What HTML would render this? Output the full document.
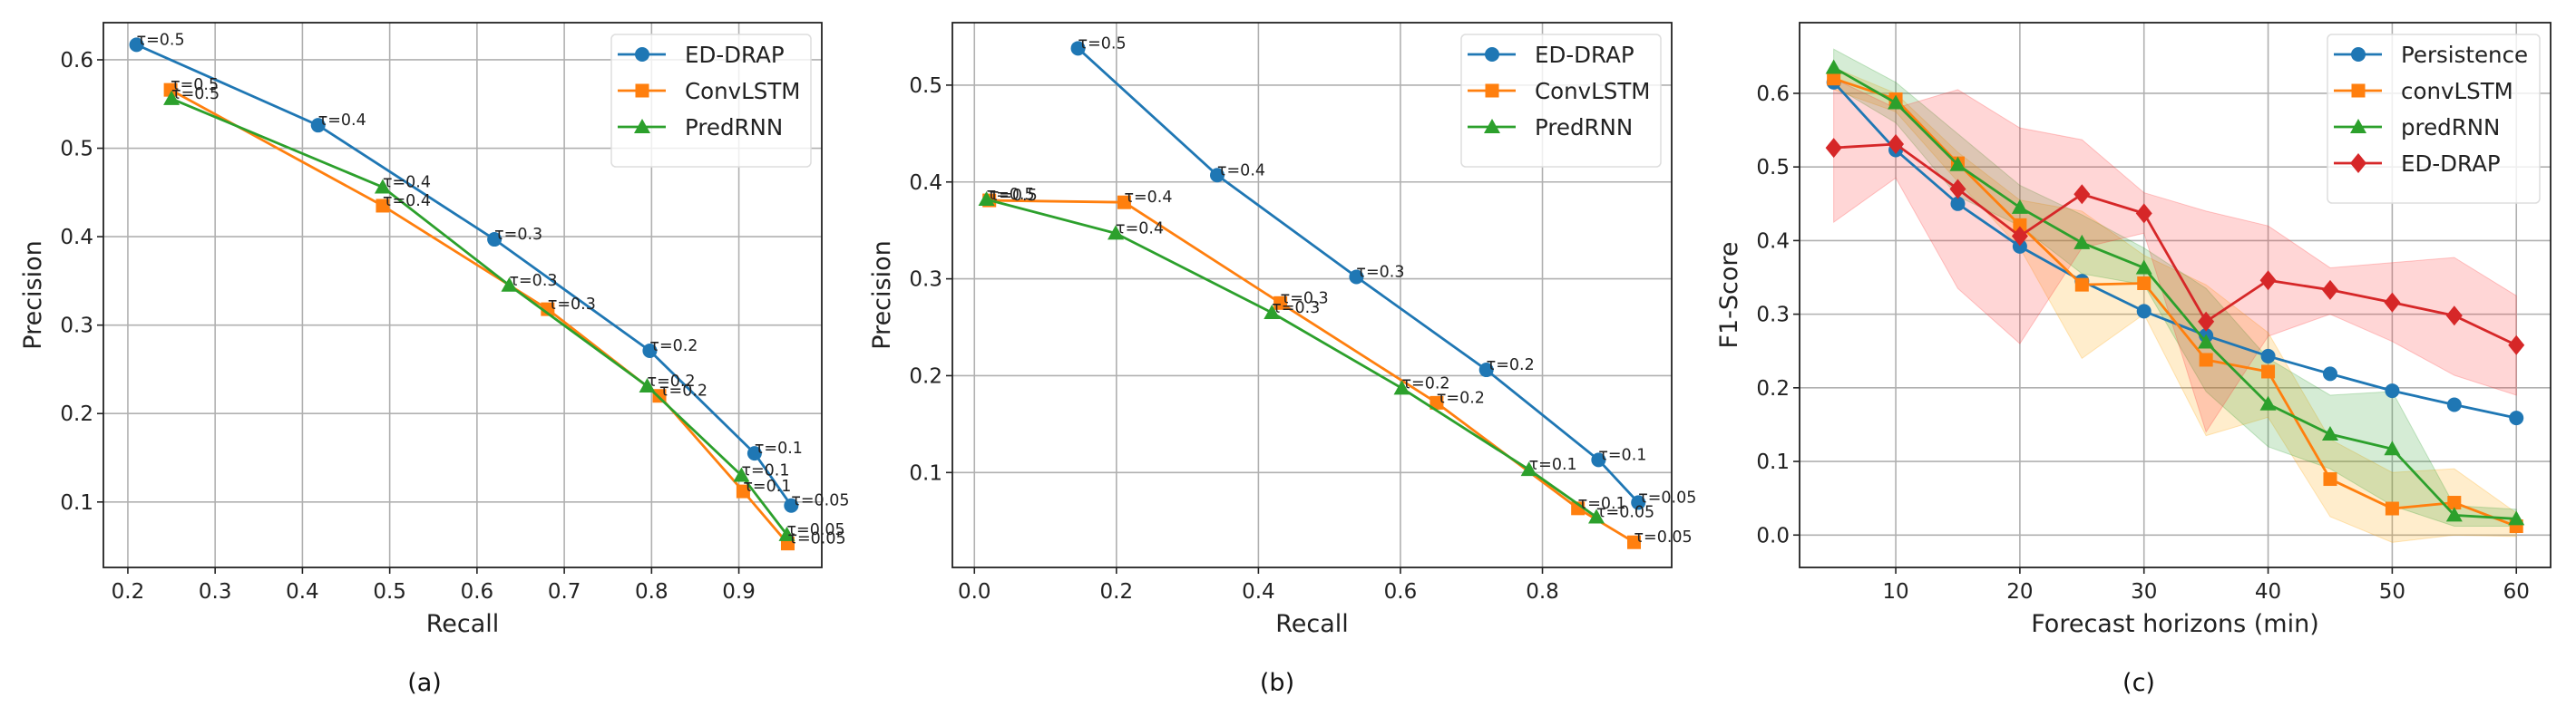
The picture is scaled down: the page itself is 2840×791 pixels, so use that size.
<!DOCTYPE html>
<html><head><meta charset="utf-8">
<style>
html,body{margin:0;padding:0;background:#fff;}
svg{display:block;font-family:"DejaVu Sans","Liberation Sans",sans-serif;}
</style></head>
<body>
<svg id="fig" width="2840" height="791" viewBox="0 0 2840 791" xmlns="http://www.w3.org/2000/svg"></svg>
<script>
// ---- Panel (a) data ----
const aEdX=[0.210,0.418,0.620,0.798,0.918,0.960];
const aEdY=[0.617,0.526,0.397,0.271,0.155,0.096];
const aConvX=[0.249,0.492,0.681,0.809,0.905,0.956];
const aConvY=[0.566,0.435,0.318,0.220,0.112,0.053];
const aPredX=[0.250,0.492,0.637,0.795,0.903,0.955];
const aPredY=[0.556,0.456,0.345,0.231,0.130,0.063];
const tauLabels=["τ=0.5","τ=0.4","τ=0.3","τ=0.2","τ=0.1","τ=0.05"];
const aXTicks=[0.2,0.3,0.4,0.5,0.6,0.7,0.8,0.9];
const aYTicks=[0.1,0.2,0.3,0.4,0.5,0.6];
// ---- Panel (b) data ----
const bEdX=[0.146,0.342,0.538,0.721,0.879,0.935];
const bEdY=[0.538,0.407,0.302,0.206,0.113,0.069];
const bConvX=[0.021,0.211,0.431,0.651,0.850,0.929];
const bConvY=[0.381,0.379,0.275,0.172,0.063,0.028];
const bPredX=[0.017,0.199,0.419,0.602,0.781,0.876];
const bPredY=[0.382,0.347,0.265,0.187,0.103,0.054];
const bXTicks=[0.0,0.2,0.4,0.6,0.8];
const bYTicks=[0.1,0.2,0.3,0.4,0.5];
// ---- Panel (c) data ----
const horizons=[5,10,15,20,25,30,35,40,45,50,55,60];
const persist=[0.615,0.523,0.450,0.392,0.345,0.304,0.271,0.243,0.219,0.196,0.177,0.159];
const convF1=[0.620,0.592,0.505,0.421,0.340,0.342,0.238,0.222,0.076,0.036,0.044,0.012];
const predF1=[0.635,0.587,0.503,0.445,0.397,0.363,0.262,0.178,0.137,0.117,0.027,0.022];
const edF1=[0.526,0.531,0.470,0.406,0.463,0.437,0.290,0.346,0.333,0.316,0.298,0.258];
const edUp=[0.620,0.580,0.605,0.553,0.537,0.465,0.440,0.420,0.363,0.370,0.377,0.325];
const edLo=[0.425,0.485,0.335,0.260,0.390,0.410,0.140,0.270,0.300,0.263,0.217,0.190];
const predUp=[0.660,0.615,0.545,0.475,0.435,0.390,0.335,0.240,0.190,0.195,0.040,0.035];
const predLo=[0.610,0.560,0.460,0.420,0.355,0.340,0.195,0.120,0.090,0.040,0.012,0.012];
const convUp=[0.635,0.600,0.520,0.455,0.440,0.380,0.340,0.275,0.130,0.085,0.090,0.030];
const convLo=[0.605,0.575,0.480,0.390,0.240,0.300,0.135,0.160,0.025,-0.010,0.000,-0.002];
const cXTicks=[10,20,30,40,50,60];
const cYTicks=[0.0,0.1,0.2,0.3,0.4,0.5,0.6];

const NS="http://www.w3.org/2000/svg";
const fig=document.getElementById('fig');
function mk(tag,attrs,parent){const e=document.createElementNS(NS,tag);for(const k in attrs)e.setAttribute(k,attrs[k]);(parent||fig).appendChild(e);return e;}
const C={blue:"#1f77b4",orange:"#ff7f0e",green:"#2ca02c",red:"#d62728"};

function marker(g,type,x,y,color){
  let m;
  if(type==='o') m=mk('circle',{cx:x,cy:y,r:8,fill:color},g);
  else if(type==='s') m=mk('rect',{x:x-7.5,y:y-7.5,width:15,height:15,fill:color},g);
  else if(type==='^') m=mk('polygon',{points:`${x},${y-9} ${x-9},${y+7} ${x+9},${y+7}`,fill:color},g);
  else m=mk('polygon',{points:`${x},${y-11} ${x+9},${y} ${x},${y+11} ${x-9},${y}`,fill:color},g);
  
  
}

function panel(o){
  const g=mk('g',{});
  
  
  const L=o.L,R=o.R,T=25,B=626;
  const sx=v=>L+(v-o.x0)/(o.x1-o.x0)*(R-L);
  const sy=v=>B-(v-o.y0)/(o.y1-o.y0)*(B-T);
  const grid=mk('g',{},g);
  
  
  o.xt.forEach(t=>{
    mk('line',{x1:sx(t),x2:sx(t),y1:T,y2:B,stroke:"#b0b0b0","stroke-width":1.6},grid);
    mk('line',{x1:sx(t),x2:sx(t),y1:B,y2:B+7,stroke:"#222","stroke-width":1.6},g);
    const tx=mk('text',{x:sx(t),y:660,"font-size":23,"text-anchor":"middle",fill:"#222"},g);
    tx.textContent=o.xfmt(t);
    
    
  });
  o.yt.forEach(t=>{
    mk('line',{x1:L,x2:R,y1:sy(t),y2:sy(t),stroke:"#b0b0b0","stroke-width":1.6},grid);
    mk('line',{x1:L-7,x2:L,y1:sy(t),y2:sy(t),stroke:"#222","stroke-width":1.6},g);
    const tx=mk('text',{x:L-11,y:sy(t)+8,"font-size":23,"text-anchor":"end",fill:"#222"},g);
    tx.textContent=t.toFixed(1);
    
    
  });
  if(o.bands){o.bands.forEach(b=>{
    let pts=o.bx.map((x,i)=>sx(x)+','+sy(b.up[i]));
    pts=pts.concat(o.bx.map((x,i)=>sx(x)+','+sy(b.lo[i])).reverse());
    const p=mk('polygon',{points:pts.join(' '),fill:b.color,"fill-opacity":0.2,stroke:b.color,"stroke-opacity":0.25},g);
    
    
  });}
  o.series.forEach(s=>{
    const sg=mk('g',{},g);
    
    
    mk('polyline',{points:s.x.map((x,i)=>sx(x)+','+sy(s.y[i])).join(' '),fill:"none",stroke:s.color,"stroke-width":2.8},sg);
    s.x.forEach((x,i)=>marker(sg,s.m,sx(x),sy(s.y[i]),s.color));
  });
  if(o.annot){o.series.forEach(s=>{s.x.forEach((x,i)=>{
    const t=mk('text',{x:sx(x),y:sy(s.y[i]),"font-size":17.5,fill:"#222"},g);
    t.textContent=tauLabels[i];
    
    
  });});}
  mk('rect',{x:L,y:T,width:R-L,height:B-T,fill:"none",stroke:"#222","stroke-width":1.8},g);
  // legend
  const lg=mk('g',{},g);
  
  
  const lw=o.legW, lx=R-12-lw, n=o.series.length;
  mk('rect',{x:lx,y:38,width:lw,height:26+n*40,rx:5,fill:"#fff","fill-opacity":0.8,stroke:"#ddd","stroke-width":1.5},lg);
  o.series.forEach((s,i)=>{
    const y=60+i*40;
    const eg=mk('g',{},lg);
    
    
    mk('line',{x1:lx+7,x2:lx+60,y1:y,y2:y,stroke:s.color,"stroke-width":2.8},eg);
    marker(eg,s.m,lx+34,y,s.color);
    const t=mk('text',{x:lx+81,y:y+9,"font-size":24.5,fill:"#222"},eg);
    t.textContent=s.label;
  });
  const xl=mk('text',{x:(L+R)/2,y:697,"font-size":27,"text-anchor":"middle",fill:"#222"},g);
  xl.textContent=o.xlabel;
  
  
  const ylx=o.ylx, yly=(T+B)/2;
  const yl=mk('text',{x:ylx,y:yly,"font-size":27,"text-anchor":"middle",fill:"#222",transform:`rotate(-90 ${ylx} ${yly})`},g);
  yl.textContent=o.ylabel;
  
  
  const cap=mk('text',{x:o.capX,y:762,"font-size":27,"text-anchor":"middle",fill:"#111"},g);
  cap.textContent=o.cap;
  
  
}

panel({name:'chart-a',L:114,R:906,x0:0.172,x1:0.995,y0:0.026,y1:0.642,xt:aXTicks,yt:aYTicks,xfmt:t=>t.toFixed(1),
  series:[{name:'series-ed-drap',label:'ED-DRAP',x:aEdX,y:aEdY,color:C.blue,m:'o'},
          {name:'series-convlstm',label:'ConvLSTM',x:aConvX,y:aConvY,color:C.orange,m:'s'},
          {name:'series-predrnn',label:'PredRNN',x:aPredX,y:aPredY,color:C.green,m:'^'}],
  annot:true,legW:220,xlabel:'Recall',ylabel:'Precision',ylx:45,capX:468,cap:'(a)'});
panel({name:'chart-b',L:1050,R:1843,x0:-0.031,x1:0.982,y0:0.002,y1:0.5645,xt:bXTicks,yt:bYTicks,xfmt:t=>t.toFixed(1),
  series:[{name:'series-ed-drap',label:'ED-DRAP',x:bEdX,y:bEdY,color:C.blue,m:'o'},
          {name:'series-convlstm',label:'ConvLSTM',x:bConvX,y:bConvY,color:C.orange,m:'s'},
          {name:'series-predrnn',label:'PredRNN',x:bPredX,y:bPredY,color:C.green,m:'^'}],
  annot:true,legW:220,xlabel:'Recall',ylabel:'Precision',ylx:981,capX:1408,cap:'(b)'});
panel({name:'chart-c',L:1984,R:2812,x0:2.25,x1:62.76,y0:-0.044,y1:0.696,xt:cXTicks,yt:cYTicks,xfmt:t=>String(t),
  bx:horizons,
  bands:[{name:'band-convlstm',up:convUp,lo:convLo,color:"#ffa500"},
         {name:'band-predrnn',up:predUp,lo:predLo,color:C.green},
         {name:'band-ed-drap',up:edUp,lo:edLo,color:"#ff3030"}],
  series:[{name:'series-persistence',label:'Persistence',x:horizons,y:persist,color:C.blue,m:'o'},
          {name:'series-convlstm',label:'convLSTM',x:horizons,y:convF1,color:C.orange,m:'s'},
          {name:'series-predrnn',label:'predRNN',x:horizons,y:predF1,color:C.green,m:'^'},
          {name:'series-ed-drap',label:'ED-DRAP',x:horizons,y:edF1,color:C.red,m:'D'}],
  annot:false,legW:234,xlabel:'Forecast horizons (min)',ylabel:'F1-Score',ylx:1915,capX:2358,cap:'(c)'});
</script>
</body></html>
